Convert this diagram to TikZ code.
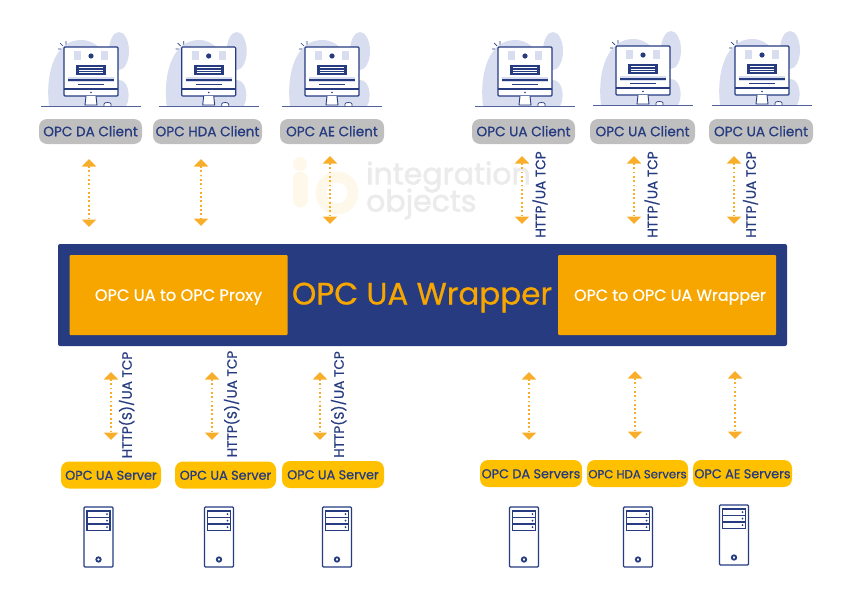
\documentclass[tikz,border=0pt]{standalone}
\usepackage{fontspec}
\setmainfont{Poppins}[FakeBold=0.7]
\newfontfamily\markfont{Poppins}[FakeBold=2]
\usepackage{xcolor}
\usetikzlibrary{arrows.meta,positioning,calc}
\definecolor{navy}{HTML}{263B80}
\definecolor{amber}{HTML}{F7A600}
\definecolor{dotamber}{HTML}{F9AE2B}
\definecolor{pillyellow}{HTML}{FFC000}
\definecolor{pillgray}{HTML}{BFBFBF}
\definecolor{lobe}{HTML}{D9DDF0}
\newcommand{\pxfont}[1]{\fontsize{#1}{#1}\selectfont}

\tikzset{
  pillbox/.style={rounded corners=8pt, minimum height=25pt, inner sep=0pt, text=navy,
    text height=9.5pt, text depth=0pt, font=\pxfont{13.6}},
  clientpill/.style={pillbox, fill=pillgray},
  serverpill/.style={pillbox, fill=pillyellow, minimum height=27pt, font=\pxfont{12.8}},
  innerbox/.style={fill=amber, rounded corners=1pt, minimum width=218pt, minimum height=80pt,
    inner sep=0pt, text=white, text height=11.5pt, text depth=0pt, font=\pxfont{16.2}},
  duplex/.style={{Triangle[length=7.5pt,width=14pt]}-{Triangle[length=7.5pt,width=14pt]},
    dotamber, line width=1.8pt, dash pattern=on 1.8pt off 2.5pt},
  vlabel/.style={rotate=90, text=navy, inner sep=0pt, text height=9.5pt, text depth=0pt, font=\pxfont{13.6}},
  marktext/.style={text=black!8, inner sep=0pt, anchor=west, font=\markfont\pxfont{30}},
  pics/desktop/.style={code={
    % backdrop
    \fill[lobe] (-42,0) .. controls (-46,-35) and (-35,-66) .. (-10,-66)
      .. controls (10,-66) and (20,-45) .. (20,-20) -- (20,0) -- cycle;
    \fill[lobe] (28,-55) ellipse (10pt and 19pt);
    \fill[lobe] (20,-26) -- (28,-26) .. controls (38,-26) and (40,-8) .. (35,0) -- (20,0) -- cycle;
    % screen
    \draw[navy, fill=white, rounded corners=1pt, line width=1.1pt] (-27,-59) rectangle (27,-10);
    \draw[navy, line width=1.1pt] (-27,-17) -- (27,-17);
    \fill[lobe] (-17,-55) rectangle (-10,-46);
    \fill[lobe] (10,-55) rectangle (17,-46);
    \fill[navy] (0,-50) circle (2.6pt);
    \fill[navy] (-15,-41) rectangle (15,-31);
    \foreach \ypos in {-39,-36.2,-33.4}
      \draw[white, line width=0.6pt] (-12,\ypos) -- (12,\ypos);
    \fill[lobe] (-23,-29) rectangle (23,-24);
    \draw[navy, line width=1.1pt] (-23,-26) -- (23,-26);
    \draw[navy, line width=1.5pt] (-13,-21.5) -- (13,-21.5);
    \fill[navy] (0,-13.5) circle (0.9pt);
    % stand and mouse
    \draw[navy, fill=white, line width=0.9pt] (-5,-10) -- (-6,-1) -- (6,-1) -- (5,-10);
    \draw[navy, line width=0.9pt] (-7,0) -- (7,0);
    \draw[navy, fill=white, line width=0.7pt] (13,0) -- (13,-2) .. controls (13,-4) and (20,-4) .. (20,-2) -- (20,0);
    % desk
    \draw[navy!80, line width=1pt] (-50,0) -- (50,0);
    % flash
    \draw[navy, line width=0.7pt] (-28,-60) -- (-31,-63) (-25,-61.5) -- (-25,-65) (-30,-57) -- (-33,-57);
  }},
  pics/tower/.style={code={
    \draw[navy, fill=white, rounded corners=1pt, line width=1.3pt] (-14.5,0) rectangle (14.5,60);
    \foreach \ypos in {4,10.5,17}{
      \draw[navy, fill=white, line width=1.2pt] (-11.5,\ypos) rectangle (11.5,\ypos+6.5);
      \fill[navy] (8.5,\ypos+3.2) circle (1pt);
    }
    \draw[navy, line width=1.8pt] (-11.5,23.5) -- (11.5,23.5);
    \draw[navy, fill=white, line width=1.8pt] (0,52.5) circle (2.2pt);
  }},
}

\begin{document}
\begin{tikzpicture}[x=1pt, y=-1pt]
\useasboundingbox (0,0) rectangle (843,597);

% ===== watermark =====
\fill[amber!8] (300,164) circle (7pt);
\draw[amber!8, line width=15pt, line cap=round] (300,179) -- (300,200);
\draw[amber!8, line width=11pt] (337,193) circle (16pt);
\node[marktext] (markA) at (366,177) {integration};
\node[marktext] (markB) at (366,204) {objects};

% ===== clients =====
\foreach \cx/\cy in {91/106,208.7/106,332/106,525/106,643/105,762/105}
  \pic at (\cx,\cy) {desktop};

\node[clientpill, minimum width=103pt] (clda) at (90.5,131.5) {OPC DA Client};
\node[clientpill, minimum width=109pt] (clhda) at (207.5,131.5) {OPC HDA Client};
\node[clientpill, minimum width=104pt] (clae) at (332,131.5) {OPC AE Client};
\node[clientpill, minimum width=103pt] (clua1) at (523.5,131.5) {OPC UA Client};
\node[clientpill, minimum width=105pt] (clua2) at (642.5,131.5) {OPC UA Client};
\node[clientpill, minimum width=104pt] (clua3) at (761,131.5) {OPC UA Client};

% ===== wrapper =====
\node[fill=navy, rounded corners=2pt, minimum width=729pt, minimum height=102pt, inner sep=0pt] (wrapper) at (422.5,295) {};
\node[innerbox] (proxy) at (178.5,295) {OPC UA to OPC Proxy};
\node[innerbox, font=\pxfont{15.9}] (wrap) at (667,295) {\hspace*{6pt}OPC to OPC UA Wrapper};
\node[text=amber, inner sep=0pt, text height=21pt, text depth=0pt, font=\pxfont{31}] (title) at (422,294) {OPC UA Wrapper};

% ===== servers =====
\node[serverpill, minimum width=100pt] (svua1) at (111,475) {OPC UA Server};
\node[serverpill, minimum width=101pt] (svua2) at (225.5,475) {OPC UA Server};
\node[serverpill, minimum width=102pt] (svua3) at (333,474.5) {OPC UA Server};
\node[serverpill, minimum width=102pt] (svda) at (531,473.5) {OPC DA Servers};
\node[serverpill, minimum width=101pt, font=\pxfont{11.7}] (svhda) at (637.5,473.5) {OPC HDA Servers};
\node[serverpill, minimum width=99pt] (svae) at (742.5,473.5) {OPC AE Servers};

\foreach \sx/\sy in {98.5/507,219/507,337/507,524/507,638/507,734/505}
  \pic at (\sx,\sy) {tower};

% ===== arrows =====
\foreach \n/\ax/\ta/\tb in {a/89/159/227,b/201/159/226,c/330/156/224,d/522/156/224,e/634/156/224,f/734/156/224,
    g/111/372/440,h/212/372/440,i/320/372/440,j/529/372/440,k/635/371/439,l/735/371/439}{
  \coordinate (arr\n top) at (\ax,\ta);
  \coordinate (arr\n bot) at (\ax,\tb);
  \draw[duplex] (arr\n top) -- (arr\n bot);
}

% ===== link labels =====
\node[vlabel] (lbd) at (540.5,194.5) {HTTP/UA TCP};
\node[vlabel] (lbe) at (652.5,194.5) {HTTP/UA TCP};
\node[vlabel] (lbf) at (751,194.5) {HTTP/UA TCP};
\node[vlabel] (lbg) at (127,405) {HTTP(S)/UA TCP};
\node[vlabel] (lbh) at (232,404) {HTTP(S)/UA TCP};
\node[vlabel] (lbi) at (339,404.5) {HTTP(S)/UA TCP};

\end{tikzpicture}
\end{document}
